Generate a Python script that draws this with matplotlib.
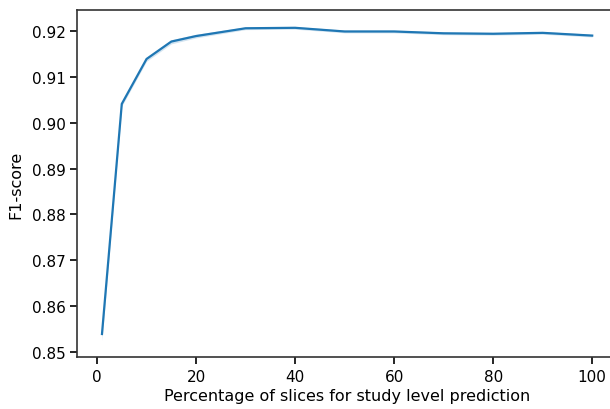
import matplotlib
matplotlib.use("Agg")
import matplotlib.pyplot as plt

# percentage of slices used and mean F1 with its confidence band
pct = [1, 5, 10, 15, 20, 30, 40, 50, 60, 70, 80, 90, 100]
f1_mean = [0.8539, 0.9041, 0.9139, 0.9177, 0.9189, 0.9206, 0.9207,
           0.9199, 0.9199, 0.9195, 0.9194, 0.9196, 0.9190]
f1_low = [0.8525, 0.9036, 0.9134, 0.9172, 0.9185, 0.9203, 0.9204,
          0.9196, 0.9196, 0.9192, 0.9191, 0.9193, 0.9187]
f1_high = [0.8548, 0.9045, 0.9143, 0.9181, 0.9193, 0.9209, 0.9210,
           0.9202, 0.9202, 0.9198, 0.9197, 0.9199, 0.9193]

fig = plt.figure(figsize=(6.1, 4.1), dpi=100)
ax = fig.add_axes([0.127, 0.127, 0.884, 0.846])

ax.fill_between(pct, f1_low, f1_high, color="#1f77b4", alpha=0.2, linewidth=0)
ax.plot(pct, f1_mean, color="#1f77b4", linewidth=1.6)

ax.set_xlim(-3.95, 104.95)
ax.set_ylim(0.8489, 0.92457)
ax.set_yticks([0.85, 0.86, 0.87, 0.88, 0.89, 0.90, 0.91, 0.92])
ax.set_yticklabels(["0.85", "0.86", "0.87", "0.88", "0.89", "0.90", "0.91", "0.92"])
ax.set_xticks([0, 20, 40, 60, 80, 100])
ax.tick_params(labelsize=11, length=5, width=1.2)
for s in ax.spines.values():
    s.set_linewidth(1.2)
    s.set_color("#333333")
ax.set_xlabel("Percentage of slices for study level prediction", fontsize=11.5, labelpad=3)
ax.set_ylabel("F1-score", fontsize=11.5, labelpad=6)

fig.savefig("out.png", dpi=100)
